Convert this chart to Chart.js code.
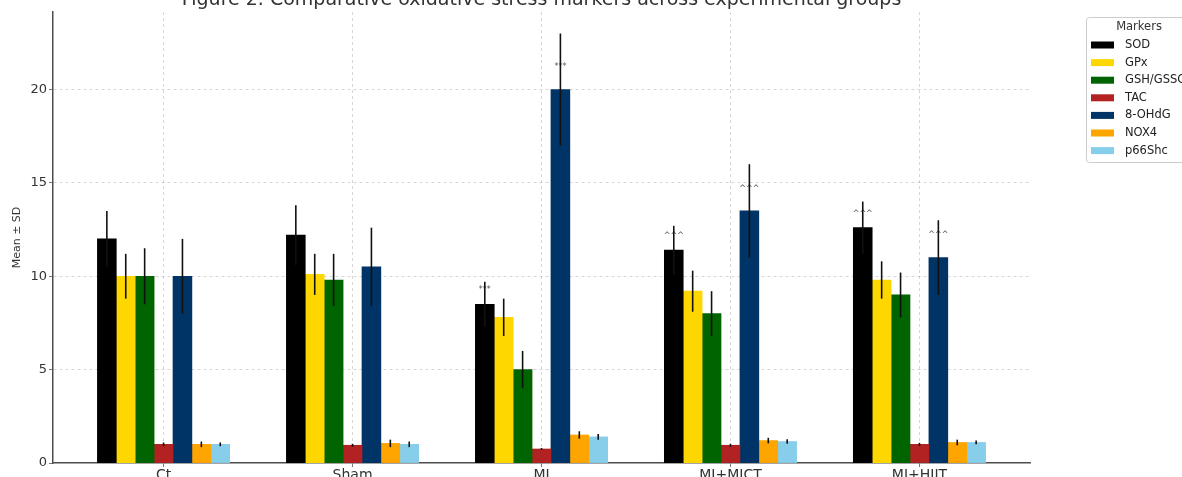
<!DOCTYPE html>
<html>
<head>
<meta charset="utf-8">
<script src="https://cdn.jsdelivr.net/npm/chart.js@4"></script>
<style>
  html, body { margin: 0; padding: 0; background: #fff; }
  #wrap { width: 1182px; height: 477px; }
</style>
</head>
<body>
<div id="wrap"><canvas id="stress"></canvas></div>
<script>
// groups on the x axis
const groups = ['Ct', 'Sham', 'MI', 'MI+MICT', 'MI+HIIT'];
const markers = ['SOD', 'GPx', 'GSH/GSSG', 'TAC', '8-OHdG', 'NOX4', 'p66Shc'];
const markerColors = ['#000000', '#FFD700', '#006400', '#B22222', '#003366', '#FFA500', '#87CEEB'];

// mean per group, one array per marker
const sod    = [12.0, 12.2, 8.5, 11.4, 12.6];
const gpx    = [10.0, 10.1, 7.8, 9.2, 9.8];
const gsh    = [10.0, 9.8, 5.0, 8.0, 9.0];
const tac    = [1.0, 0.95, 0.75, 0.95, 1.0];
const ohdg   = [10.0, 10.5, 20.0, 13.5, 11.0];
const nox4   = [1.0, 1.05, 1.5, 1.2, 1.1];
const p66shc = [1.0, 1.0, 1.4, 1.15, 1.1];

// SD per group
const sodSd    = [1.5, 1.6, 1.2, 1.3, 1.4];
const gpxSd    = [1.2, 1.1, 1.0, 1.1, 1.0];
const gshSd    = [1.5, 1.4, 1.0, 1.2, 1.2];
const tacSd    = [0.1, 0.08, 0.05, 0.08, 0.08];
const ohdgSd   = [2.0, 2.1, 3.0, 2.5, 2.0];
const nox4Sd   = [0.15, 0.2, 0.2, 0.15, 0.15];
const p66shcSd = [0.1, 0.15, 0.15, 0.12, 0.1];

const yTicks = [0, 5, 10, 15, 20];

// significance marks: [marker index, group index, text]
const marks = [
    [0, 2, '***'], [4, 2, '***'],
    [0, 3, '^^^'], [4, 3, '^^^'],
    [0, 4, '^^^'], [4, 4, '^^^']
];
const markLift = [0.75, 0, 0, 0, 1.2, 0, 0];

const means = [sod, gpx, gsh, tac, ohdg, nox4, p66shc];
const sds = [sodSd, gpxSd, gshSd, tacSd, ohdgSd, nox4Sd, p66shcSd];

const datasets = markers.map((m, i) => ({
    label: m,
    data: means[i].map((v, g) => ({ x: g, y: v })),
    sd: sds[i],
    backgroundColor: markerColors[i],
    borderWidth: 0,
    barThickness: 18.9
}));

// error bars + star / caret marks
const errorBars = {
    id: 'errorBars',
    afterDatasetsDraw(chart) {
        const ctx = chart.ctx;
        const y = chart.scales.y;
        ctx.save();
        ctx.font = '8px "DejaVu Sans"';
        ctx.fillStyle = '#555';
        ctx.textAlign = 'center';
        ctx.textBaseline = 'middle';
        marks.forEach(([mi, gi, txt]) => {
            const el = chart.getDatasetMeta(mi).data[gi];
            ctx.fillText(txt, el.x, y.getPixelForValue(means[mi][gi] + markLift[mi]));
        });
        ctx.strokeStyle = '#111';
        ctx.lineWidth = 1.6;
        chart.data.datasets.forEach((ds, i) => {
            chart.getDatasetMeta(i).data.forEach((el, j) => {
                const m = ds.data[j].y, s = ds.sd[j];
                ctx.beginPath();
                ctx.moveTo(el.x, y.getPixelForValue(m - s));
                ctx.lineTo(el.x, y.getPixelForValue(m + s));
                ctx.stroke();
            });
        });
        ctx.restore();
    }
};

// title over the axes + boxed legend on the right
const decor = {
    id: 'decor',
    afterDraw(chart) {
        const ctx = chart.ctx;
        const a = chart.chartArea;
        ctx.save();
        ctx.fillStyle = '#333';
        ctx.font = '19px "DejaVu Sans"';
        ctx.textAlign = 'center';
        ctx.textBaseline = 'alphabetic';
        ctx.fillText('Figure 2. Comparative oxidative stress markers across experimental groups', (a.left + a.right) / 2, 5);

        const lx = 1086, ly = 17;
        ctx.fillStyle = '#fff';
        ctx.strokeStyle = '#ccc';
        ctx.lineWidth = 1;
        ctx.beginPath();
        ctx.roundRect(lx + 0.5, ly + 0.5, 110, 145, 3);
        ctx.fill();
        ctx.stroke();
        ctx.font = '11.5px "DejaVu Sans"';
        ctx.fillStyle = '#333';
        ctx.textAlign = 'center';
        ctx.textBaseline = 'middle';
        ctx.fillText('Markers', 1139, 27);
        ctx.textAlign = 'left';
        chart.data.datasets.forEach((ds, i) => {
            const yy = 45 + i * 17.6;
            ctx.fillStyle = ds.backgroundColor;
            ctx.fillRect(1091, yy - 3.5, 23, 7);
            ctx.fillStyle = '#222';
            ctx.fillText(ds.label, 1125, yy);
        });
        ctx.restore();
    }
};

const gridOpts = {
    color: c => (c.tick && c.tick.value === 0 ? 'rgba(0,0,0,0)' : 'rgba(0,0,0,0.2)'),
    lineWidth: 0.8,
    offset: false,
    tickLength: 4,
    tickColor: '#555',
    tickBorderDash: []
};

new Chart(document.getElementById('stress'), {
    type: 'bar',
    data: { datasets },
    options: {
        responsive: true,
        maintainAspectRatio: false,
        animation: false,
        layout: { padding: { top: 12, right: 152, left: 0, bottom: 0 } },
        plugins: {
            legend: { display: false },
            title: { display: false },
            tooltip: { enabled: false }
        },
        scales: {
            x: {
                type: 'linear',
                offset: false,
                min: -0.585,
                max: 4.585,
                afterBuildTicks: s => { s.ticks = groups.map((_, i) => ({ value: i })); },
                afterFit: s => { s.height = 14; },
                ticks: {
                    callback: v => groups[v],
                    font: { family: 'DejaVu Sans', size: 14 },
                    color: '#333',
                    padding: 0,
                    maxRotation: 0,
                    autoSkip: false
                },
                grid: {
                    ...gridOpts,
                    color: 'rgba(0,0,0,0.2)'
                },
                border: { display: true, color: '#4d4d4d', width: 1.5, dash: [3, 3] }
            },
            y: {
                min: 0,
                max: 24.15,
                afterBuildTicks: s => { s.ticks = yTicks.map(v => ({ value: v })); },
                afterFit: s => { s.width = 53; },
                ticks: {
                    includeBounds: false,
                    font: { family: 'DejaVu Sans', size: 13 },
                    color: '#333',
                    padding: 2
                },
                title: {
                    display: true,
                    text: 'Mean ± SD',
                    font: { family: 'DejaVu Sans', size: 11 },
                    color: '#333',
                    padding: { top: 11, bottom: 0 }
                },
                grid: gridOpts,
                border: { display: true, color: '#4d4d4d', width: 1.5, dash: [3, 3] }
            }
        }
    },
    plugins: [errorBars, decor]
});
</script>
</body>
</html>
